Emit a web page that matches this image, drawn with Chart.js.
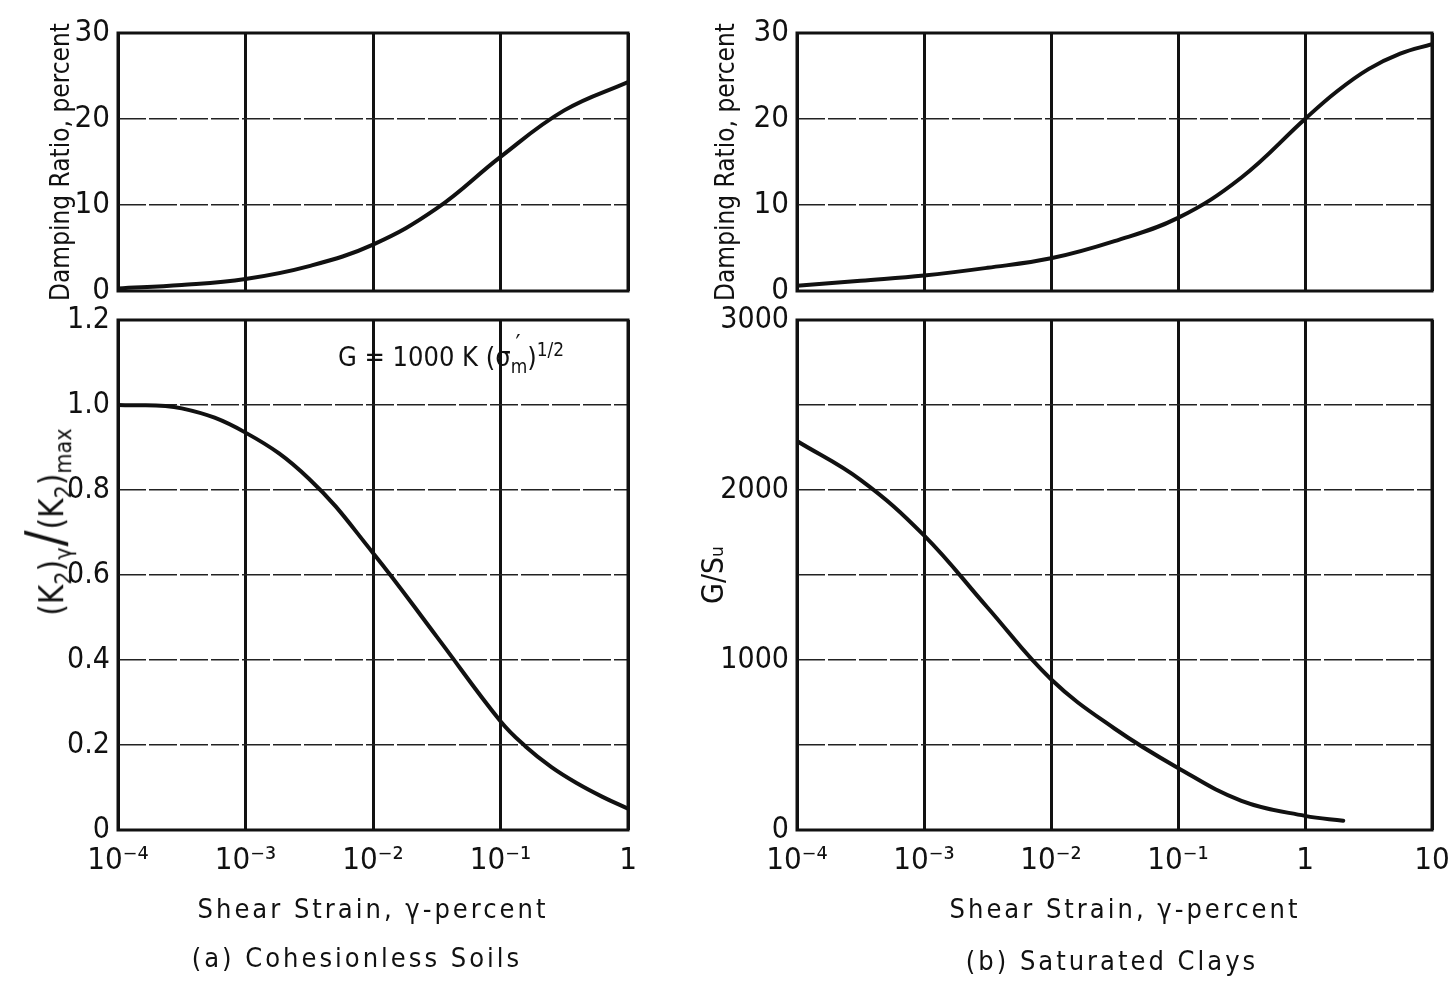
<!DOCTYPE html>
<html>
<head>
<meta charset="utf-8">
<script src="https://cdn.jsdelivr.net/npm/chart.js@4.4.1/dist/chart.umd.min.js"></script>
<style>
  body { margin: 0; background: #fff; width: 1456px; height: 981px; overflow: hidden; position: relative;
         font-family: 'Liberation Sans Narrow', 'DejaVu Sans Condensed', sans-serif; color: #111; }
  canvas { position: absolute; }
  .txt { position: absolute; white-space: nowrap; transform: translate(-50%, -50%); }
  .cap { font-size: 27px; letter-spacing: 3px; }
  .xtitle { font-size: 27px; letter-spacing: 3px; }
  #gnote { font-size: 27px; transform: none; }
  #gnote sup { font-size: 0.7em; }
  .pm { position: relative; font-size: 0.7em; vertical-align: -0.35em; }
  .pm .pr { position: absolute; left: 0.2em; top: -1.05em; font-size: 1.3em; }
  #k2label { font-size: 33px; transform: translate(-50%, -50%) rotate(-90deg); }
  #k2label sub { font-size: 0.7em; }
  #k2label .slash { font-size: 1.6em; margin: 0 1px; }
</style>
</head>
<body>
<canvas id="sandDampingChart" width="660" height="300" style="left:0;top:0"></canvas>
<canvas id="sandModulusChart" width="660" height="681" style="left:0;top:300px"></canvas>
<canvas id="clayDampingChart" width="756" height="300" style="left:700px;top:0"></canvas>
<canvas id="clayModulusChart" width="756" height="681" style="left:700px;top:300px"></canvas>

<div class="txt" id="k2label" style="left:45px;top:522px">(K<sub>2</sub>)<sub>γ</sub><span class="slash">/</span>(K<sub>2</sub>)<sub>max</sub></div>
<div class="txt" id="gnote" style="left:338px;top:338px">G = 1000 K (σ<span class="pm"><span class="pr">′</span>m</span>)<sup>1/2</sup></div>
<div class="txt xtitle" style="left:373px;top:908px">Shear Strain, γ-percent</div>
<div class="txt xtitle" style="left:1125px;top:908px">Shear Strain, γ-percent</div>
<div class="txt cap" style="left:357px;top:957px">(a) Cohesionless Soils</div>
<div class="txt cap" style="left:1112px;top:960px">(b) Saturated Clays</div>

<script>
// values (strain in percent)
const sandDampStrain = [1e-4, 3.16e-4, 1e-3, 3.16e-3, 1e-2, 3.16e-2, 1e-1, 3.16e-1, 1];
const sandDamping = [0.3, 0.7, 1.4, 2.9, 5.4, 9.6, 15.6, 21.0, 24.3];
const sandModStrain = [1e-4, 3.16e-4, 1e-3, 3.16e-3, 1e-2, 3.16e-2, 1e-1, 0.158, 0.251, 0.398, 0.631, 1];
const sandModulus = [1.0, 0.992, 0.935, 0.826, 0.652, 0.455, 0.256, 0.196, 0.148, 0.11, 0.078, 0.05];
const clayDampStrain = [1e-4, 3.16e-4, 1e-3, 3.16e-3, 1e-2, 3.16e-2, 1e-1, 3.16e-1, 1, 1.78, 3.16, 5.62, 10];
const clayDamping = [0.6, 1.2, 1.8, 2.7, 3.8, 5.8, 8.5, 13.2, 20, 23.2, 25.8, 27.6, 28.7];
const clayModStrain = [1e-4, 3.16e-4, 1e-3, 3.16e-3, 1e-2, 3.16e-2, 1e-1, 3.16e-1, 1, 2];
const clayModulus = [2288, 2060, 1733, 1309, 887, 597, 365, 172, 83, 55];

const sandDecades = [1e-4, 1e-3, 1e-2, 1e-1, 1];
const sandTickLabels = ['10⁻⁴', '10⁻³', '10⁻²', '10⁻¹', '1'];
const clayDecades = [1e-4, 1e-3, 1e-2, 1e-1, 1, 10];
const clayTickLabels = ['10⁻⁴', '10⁻³', '10⁻²', '10⁻¹', '1', '10'];

const dampingTicks = [0, 10, 20, 30];
const dampingTickLabels = ['0', '10', '20', '30'];
const ratioTicks = [0, 0.2, 0.4, 0.6, 0.8, 1.0, 1.2];
const ratioTickLabels = ['0', '0.2', '0.4', '0.6', '0.8', '1.0', '1.2'];
const gsuTicks = [0, 500, 1000, 1500, 2000, 2500, 3000];
const gsuTickLabels = ['0', '', '1000', '', '2000', '', '3000'];

const ink = '#111';
const face = "'Liberation Sans Narrow', 'DejaVu Sans Condensed', sans-serif";

// heavy box round each plot area
const frame = {
  id: 'frame',
  afterDraw(chart) {
    const { ctx, chartArea: a } = chart;
    ctx.save();
    ctx.strokeStyle = ink;
    ctx.lineWidth = 3;
    ctx.strokeRect(a.left, a.top, a.right - a.left, a.bottom - a.top);
    ctx.restore();
  }
};

function drawPanel(id, setup) {
  const points = setup.strain.map((s, i) => ({ x: s, y: setup.values[i] }));
  return new Chart(document.getElementById(id), {
    type: 'line',
    data: {
      datasets: [{
        data: points,
        borderColor: ink,
        borderWidth: 4,
        pointRadius: 0,
        fill: false,
        tension: 0.4,
        borderCapStyle: 'round',
        borderJoinStyle: 'round'
      }]
    },
    options: {
      responsive: false,
      animation: false,
      devicePixelRatio: 1,
      layout: { padding: { left: 0, top: setup.top, right: setup.right, bottom: 0 } },
      plugins: { legend: { display: false }, tooltip: { enabled: false } },
      scales: {
        x: {
          type: 'logarithmic',
          min: setup.decades[0],
          max: setup.decades[setup.decades.length - 1],
          afterBuildTicks: scale => { scale.ticks = setup.decades.map(v => ({ value: v })); },
          afterFit: scale => { scale.height = setup.xHeight; scale.paddingLeft = 0; scale.paddingRight = 0; },
          grid: { color: ink, lineWidth: 3, drawTicks: false },
          border: { display: false },
          ticks: {
            display: setup.showX,
            padding: 12,
            maxRotation: 0,
            autoSkip: false,
            color: ink,
            font: { family: face, size: 31 },
            callback: v => setup.tickLabels[setup.decades.indexOf(v)]
          }
        },
        y: {
          min: setup.yTicks[0],
          max: setup.yTicks[setup.yTicks.length - 1],
          afterBuildTicks: scale => { scale.ticks = setup.yTicks.map(v => ({ value: v })); },
          afterFit: scale => { scale.width = setup.left; scale.paddingTop = 0; scale.paddingBottom = 0; },
          grid: { color: '#222', lineWidth: 1.5, drawTicks: false },
          border: { display: false, dash: [28, 3] },
          ticks: {
            padding: 8,
            color: ink,
            font: { family: face, size: setup.yFont },
            callback: v => setup.yTickLabels[setup.yTicks.indexOf(v)]
          },
          title: {
            display: !!setup.yTitle,
            text: setup.yTitle || '',
            color: ink,
            font: { family: face, size: setup.titleFont, lineHeight: 1 },
            padding: { top: setup.yTitlePad, bottom: 0 }
          }
        }
      }
    },
    plugins: [frame]
  });
}

drawPanel('sandDampingChart', {
  strain: sandDampStrain, values: sandDamping,
  decades: sandDecades, tickLabels: sandTickLabels, showX: false,
  yTicks: dampingTicks, yTickLabels: dampingTickLabels, yFont: 31,
  yTitle: 'Damping Ratio, percent', yTitlePad: 49, titleFont: 26,
  left: 118, right: 32, top: 33, xHeight: 9
});

drawPanel('sandModulusChart', {
  strain: sandModStrain, values: sandModulus,
  decades: sandDecades, tickLabels: sandTickLabels, showX: true,
  yTicks: ratioTicks, yTickLabels: ratioTickLabels, yFont: 30,
  yTitle: null, yTitlePad: 0, titleFont: 26,
  left: 118, right: 32, top: 20, xHeight: 151
});

drawPanel('clayDampingChart', {
  strain: clayDampStrain, values: clayDamping,
  decades: clayDecades, tickLabels: clayTickLabels, showX: false,
  yTicks: dampingTicks, yTickLabels: dampingTickLabels, yFont: 31,
  yTitle: 'Damping Ratio, percent', yTitlePad: 14, titleFont: 26,
  left: 97, right: 24, top: 33, xHeight: 9
});

drawPanel('clayModulusChart', {
  strain: clayModStrain, values: clayModulus,
  decades: clayDecades, tickLabels: clayTickLabels, showX: true,
  yTicks: gsuTicks, yTickLabels: gsuTickLabels, yFont: 30,
  yTitle: 'G/Sᵤ', yTitlePad: 0, titleFont: 30,
  left: 97, right: 24, top: 20, xHeight: 151
});
</script>
</body>
</html>
